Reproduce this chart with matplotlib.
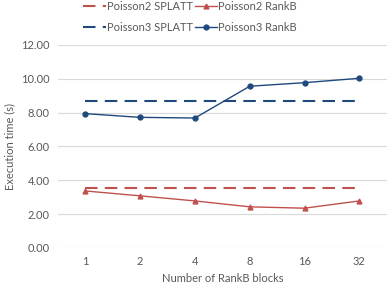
import numpy as np
import matplotlib
matplotlib.use("Agg")
import matplotlib.pyplot as plt

# data
blocks = ["1", "2", "4", "8", "16", "32"]
poisson2_splatt = [3.55, 3.55, 3.55, 3.55, 3.55, 3.55]
poisson2_rankb = [3.37, 3.08, 2.78, 2.43, 2.35, 2.78]
poisson3_splatt = [8.67, 8.67, 8.67, 8.67, 8.67, 8.67]
poisson3_rankb = [7.94, 7.72, 7.68, 9.56, 9.77, 10.03]
yticks = [0, 2, 4, 6, 8, 10, 12]

red = "#C0504D"
blue = "#1F497D"
text_col = "#595959"

plt.rcParams['font.family'] = ['Lato', 'DejaVu Sans']

fig = plt.figure(figsize=(3.88, 2.9), dpi=100)
ax = fig.add_axes([0.149, 0.145, 0.848, 0.70])

x = np.arange(len(blocks))
h1, = ax.plot(x, poisson2_splatt, color=red, lw=1.5, dashes=(6, 3.5), label="Poisson2 SPLATT")
h2, = ax.plot(x, poisson2_rankb, color=red, lw=1.0, marker="^", ms=3.5, label="Poisson2 RankB")
h3, = ax.plot(x, poisson3_splatt, color=blue, lw=1.5, dashes=(6, 3.5), label="Poisson3 SPLATT")
h4, = ax.plot(x, poisson3_rankb, color=blue, lw=1.0, marker="o", ms=3.5, label="Poisson3 RankB")

ax.set_xlim(-0.5, len(blocks) - 0.5)
ax.set_ylim(0, 12)
ax.set_xticks(x)
ax.set_xticklabels(blocks)
ax.set_yticks(yticks)
ax.set_yticklabels([f"{v:.2f}" for v in yticks])
ax.grid(axis="y", color="#D9D9D9", lw=0.8)
ax.set_axisbelow(True)
for s in ["top", "right", "left", "bottom"]:
    ax.spines[s].set_visible(False)
ax.tick_params(length=0, colors=text_col, labelsize=8, pad=6)
ax.set_xlabel("Number of RankB blocks", color=text_col, fontsize=8, labelpad=4)
ax.set_ylabel("Execution time (s)", color=text_col, fontsize=8, labelpad=4)

# legend filled column-wise, so order handles to get Poisson2 on row 1
fig.legend([h1, h3, h2, h4], [h.get_label() for h in [h1, h3, h2, h4]],
           loc="upper center", bbox_to_anchor=(0.49, 1.03), ncol=2, frameon=False,
           fontsize=8, labelcolor=text_col, handlelength=2.0, handletextpad=0.1,
           columnspacing=0.2, labelspacing=0.9)

fig.savefig("out.png", dpi=100)
